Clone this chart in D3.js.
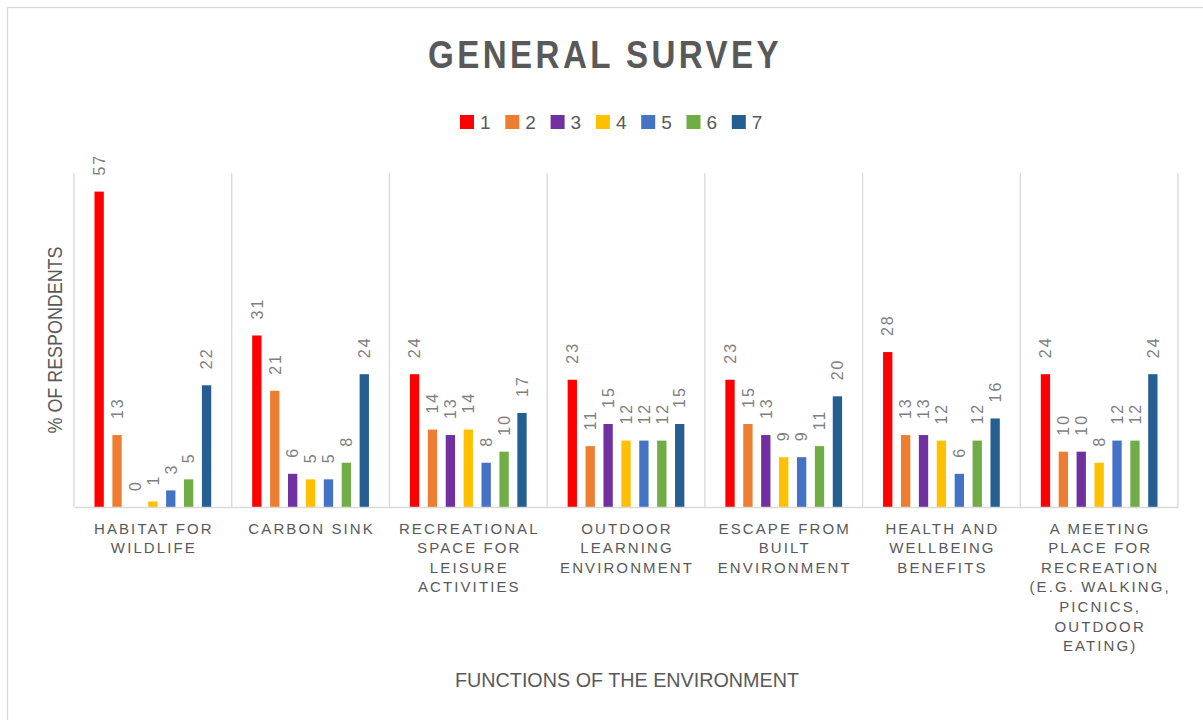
<!DOCTYPE html>
<html>
<head>
<meta charset="utf-8">
<script src="https://cdn.jsdelivr.net/npm/d3@7"></script>
<style>
  html, body { margin: 0; padding: 0; background: #fff; }
  svg { display: block; font-family: "Liberation Sans", Arial, sans-serif; }
</style>
</head>
<body>
<svg id="chart" width="1203" height="720"></svg>
<script>
// ---- data ----
const categories = [
  "Habitat for wildlife",
  "Carbon sink",
  "Recreational space for leisure activities",
  "Outdoor learning environment",
  "Escape from built environment",
  "Health and wellbeing benefits",
  "A meeting place for recreation (e.g. walking, picnics, outdoor eating)"
];
const categoryLines = [
  ["HABITAT FOR", "WILDLIFE"],
  ["CARBON SINK"],
  ["RECREATIONAL", "SPACE FOR", "LEISURE", "ACTIVITIES"],
  ["OUTDOOR", "LEARNING", "ENVIRONMENT"],
  ["ESCAPE FROM", "BUILT", "ENVIRONMENT"],
  ["HEALTH AND", "WELLBEING", "BENEFITS"],
  ["A MEETING", "PLACE FOR", "RECREATION", "(E.G. WALKING,", "PICNICS,", "OUTDOOR", "EATING)"]
];
const seriesNames = ["1", "2", "3", "4", "5", "6", "7"];
const s1 = [57, 31, 24, 23, 23, 28, 24];
const s2 = [13, 21, 14, 11, 15, 13, 10];
const s3 = [0, 6, 13, 15, 13, 13, 10];
const s4 = [1, 5, 14, 12, 9, 12, 8];
const s5 = [3, 5, 8, 12, 9, 6, 12];
const s6 = [5, 8, 10, 12, 11, 12, 12];
const s7 = [22, 24, 17, 15, 20, 16, 24];
const seriesValues = [s1, s2, s3, s4, s5, s6, s7];
const seriesColors = ["#FF0000", "#ED7D31", "#7030A0", "#FFC000", "#4472C4", "#70AD47", "#255E91"];
const yMax = 60;

// ---- layout ----
const svg = d3.select("#chart");
const plotLeft = 74, plotRight = 1178, plotTop = 173, plotBottom = 507;
const textDark = "#595959";
const gridColor = "#d9d9d9";

// outer chart border (only top/left visible in frame)
svg.append("rect")
  .attr("x", 7.5).attr("y", 7.5).attr("width", 1210).attr("height", 730)
  .attr("fill", "none").attr("stroke", gridColor).attr("stroke-width", 1.3);

const x0 = d3.scaleBand().domain(categories).range([plotLeft, plotRight]).padding(0);
const x1 = d3.scaleBand().domain(seriesNames).range([0, x0.bandwidth()])
  .paddingInner(0.48).paddingOuter(1.145);
const y = d3.scaleLinear().domain([0, yMax]).range([plotBottom, plotTop + 2]);
const color = d3.scaleOrdinal().domain(seriesNames).range(seriesColors);

// vertical separators between categories
const bounds = categories.map(c => x0(c)).concat([x0(categories[categories.length - 1]) + x0.bandwidth()]);
svg.append("g").selectAll("line").data(bounds).join("line")
  .attr("x1", d => d).attr("x2", d => d)
  .attr("y1", plotTop).attr("y2", plotBottom)
  .attr("stroke", gridColor).attr("stroke-width", 1.3);

// bars
const groups = svg.append("g").selectAll("g").data(categories).join("g")
  .attr("transform", c => `translate(${x0(c)},0)`);

const cells = groups.selectAll("g.cell")
  .data((c, ci) => seriesNames.map((s, si) => ({ s, v: seriesValues[si][ci] })))
  .join("g").attr("class", "cell");

cells.append("rect")
  .attr("x", d => x1(d.s))
  .attr("width", x1.bandwidth())
  .attr("y", d => y(d.v))
  .attr("height", d => y(0) - y(d.v))
  .attr("fill", d => color(d.s));

cells.append("text")
  .attr("transform", d => `translate(${x1(d.s) + x1.bandwidth() / 2},${y(d.v) - 16}) rotate(-90)`)
  .attr("dy", "0.36em")
  .attr("text-anchor", "start")
  .attr("font-size", 16)
  .attr("letter-spacing", 2)
  .attr("fill", "#7f7f7f")
  .text(d => d.v);

// x axis
const xAxis = svg.append("g")
  .attr("transform", `translate(0,${plotBottom})`)
  .call(d3.axisBottom(x0).tickSize(0).tickFormat(""));
xAxis.select(".domain").attr("stroke", gridColor).attr("stroke-width", 1.3);
xAxis.selectAll(".tick text").remove();
xAxis.selectAll(".tick").each(function (c, i) {
  const t = d3.select(this).append("text")
    .attr("fill", textDark)
    .attr("font-size", 15)
    .attr("letter-spacing", 2.1)
    .attr("text-anchor", "middle")
    .attr("font-family", "'Liberation Sans', Arial, sans-serif");
  categoryLines[i].forEach((line, li) => {
    t.append("tspan").attr("x", 1).attr("y", 26.5 + li * 19.6).text(line);
  });
});

// title
svg.append("text")
  .attr("x", 605).attr("y", 68)
  .attr("text-anchor", "middle")
  .attr("font-size", 39).attr("font-weight", "bold")
  .attr("letter-spacing", 4)
  .attr("fill", textDark)
  .attr("textLength", 354).attr("lengthAdjust", "spacingAndGlyphs")
  .text("GENERAL SURVEY");

// legend
const legend = svg.append("g").selectAll("g").data(seriesNames).join("g")
  .attr("transform", (d, i) => `translate(${460 + i * 45.3},115)`);
legend.append("rect").attr("width", 14).attr("height", 14).attr("fill", d => color(d));
legend.append("text").attr("x", 20).attr("y", 14).attr("font-size", 19)
  .attr("fill", textDark).text(d => d);

// axis titles
svg.append("text")
  .attr("transform", `translate(61.5,${(plotTop + plotBottom) / 2}) rotate(-90)`)
  .attr("text-anchor", "middle")
  .attr("font-size", 20)
  .attr("fill", textDark)
  .attr("textLength", 187).attr("lengthAdjust", "spacingAndGlyphs")
  .text("% OF RESPONDENTS");

svg.append("text")
  .attr("x", 627).attr("y", 686.5)
  .attr("text-anchor", "middle")
  .attr("font-size", 20)
  .attr("fill", textDark)
  .attr("textLength", 344).attr("lengthAdjust", "spacingAndGlyphs")
  .text("FUNCTIONS OF THE ENVIRONMENT");
</script>
</body>
</html>
